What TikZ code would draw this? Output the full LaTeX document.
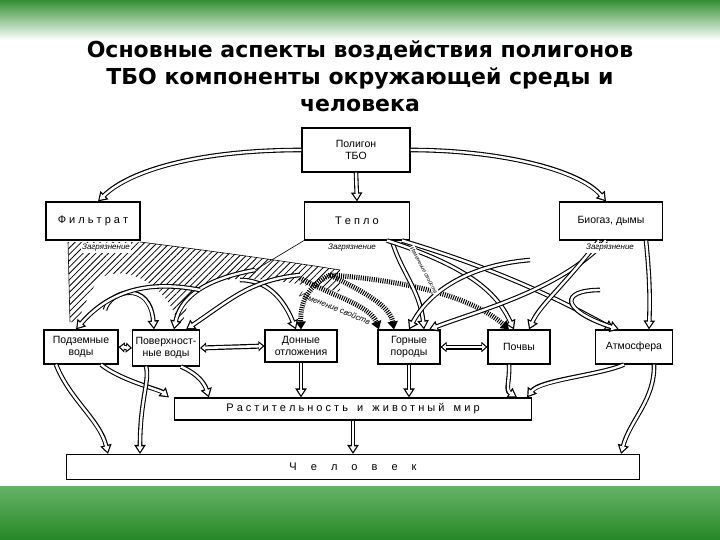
\documentclass[tikz,border=0pt]{standalone}
\usepackage{fontspec}
\setmainfont{Liberation Sans}
\newfontfamily\titlefont{DejaVu Sans}
\usetikzlibrary{arrows.meta,patterns.meta,shapes.misc}
\begin{document}
\begin{tikzpicture}[x=1pt,y=-1pt,
  box/.style={draw,line width=1.1pt,fill=white,align=center,font=\fontsize{10.5}{11.5}\selectfont,inner sep=1pt},
  hollow/.style={line width=4.6pt,-{Triangle[length=9pt,width=11pt]},
     postaction={draw=white,line width=2.4pt,shorten >=2.2pt,-{Triangle[length=5.5pt,width=6.5pt]}}},
  thin/.style={line width=0.6pt},
  dbl/.style={line width=5pt,{Triangle[length=6pt,width=10pt]}-{Triangle[length=6pt,width=10pt]},
     postaction={draw=white,line width=2.6pt,shorten >=1.8pt,shorten <=1.8pt,{Triangle[length=3.5pt,width=5.5pt]}-{Triangle[length=3.5pt,width=5.5pt]}}},
  hatch/.style={line width=5pt,dash pattern=on 1pt off 1.2pt,-{Triangle[length=8pt,width=10pt]}},
  lab/.style={font=\itshape\fontsize{8}{9}\selectfont,inner sep=1pt}]
\useasboundingbox (0,0) rectangle (720,540);
\shade[top color=green!45!black!80,bottom color=white] (0,0) rectangle (720,40);
\fill[white] (0,40) rectangle (720,488);
\shade[top color=green!50!black!60,bottom color=green!45!black!85] (0,486) rectangle (720,540);
\node[font=\titlefont\bfseries\fontsize{22}{27}\selectfont,align=center] (title) at (360,76)
  {Основные аспекты воздействия полигонов\\ТБО компоненты окружающей среды и\\человека};
\fill[white] (40,125) rectangle (680,484);
% nodes
\node[box,minimum width=108pt,minimum height=44pt] (pol) at (356,150) {Полигон\\ТБО};
\node[box,minimum width=94pt,minimum height=38pt,font=\fontsize{11}{12}\selectfont] (fil) at (93,221) {Ф и л ь т р а т};
\node[box,minimum width=105pt,minimum height=38pt,font=\fontsize{11}{12}\selectfont] (tep) at (357,221) {Т е п л о};
\node[box,minimum width=103pt,minimum height=38pt] (bio) at (611,221) {Биогаз, дымы};
\node[box,minimum width=74pt,minimum height=34pt] (pod) at (81,347) {Подземные\\воды};
\node[box,minimum width=67pt,minimum height=36pt] (pov) at (166,348) {Поверхност-\\ные воды};
\node[box,minimum width=72pt,minimum height=32pt] (don) at (301,346) {Донные\\отложения};
\node[box,minimum width=62pt,minimum height=34pt] (gor) at (409,347) {Горные\\породы};
\node[box,minimum width=62pt,minimum height=34pt] (poc) at (519,347) {Почвы};
\node[box,minimum width=77pt,minimum height=34pt] (atm) at (634,347) {Атмосфера};
\node[box,minimum width=357pt,minimum height=22pt,font=\fontsize{11}{12}\selectfont] (ras) at (353,409) {Р а с т и т е л ь н о с т ь \ \ и \ \ ж и в о т н ы й \ \ м и р};
\node[box,minimum width=573pt,minimum height=25pt,font=\fontsize{11}{12}\selectfont] (che) at (353,467) {Ч \quad е \quad л \quad о \quad в \quad е \quad к};
% hatched area
\fill[pattern={Lines[angle=45,distance=4.5pt,line width=0.8pt]}] (68,242) -- (140,242) .. controls (220,252) and (290,262) .. (340,270)
  -- (340,292) .. controls (290,282) and (240,272) .. (205,285) .. controls (190,295) and (185,310) .. (183,322)
  -- (177,322) .. controls (170,290) and (130,262) .. (100,278) .. controls (90,290) and (82,310) .. (78,322)
  -- (70,322) -- cycle;
\draw[thin] (68,242) -- (70,322);
\draw[thin] (140,242) .. controls (220,252) and (290,262) .. (340,270);
\coordinate (h1) at (330,275);
\draw[hatch] (h1) .. controls (310,285) and (300,300) .. (don.north);
\draw[hatch] (h1) .. controls (360,290) and (390,305) .. ([xshift=-15pt]gor.north);
\draw[hatch] (h1) .. controls (400,280) and (470,295) .. ([xshift=-10pt]poc.north);
\draw[hatch] (300,278) .. controls (330,295) and (370,305) .. ([xshift=-30pt]gor.north);
% from polygon
\draw[hollow] (pol.west) .. controls (200,150) and (130,170) .. ([xshift=5pt]fil.north);
\draw[hollow] (pol.south) -- (tep.north);
\draw[hollow] (pol.east) .. controls (500,150) and (580,170) .. ([xshift=-5pt]bio.north);
% from teplo
\draw[thin] (tep.south west) -- (255,270);
\draw[hollow] (255,270) .. controls (200,280) and (180,300) .. ([xshift=8pt]pov.north);
\draw[hollow] ([xshift=35pt]tep.south) .. controls (400,270) and (420,290) .. ([xshift=15pt]gor.north);
\draw[hollow] ([xshift=30pt]tep.south) .. controls (480,270) and (500,300) .. ([xshift=-5pt]poc.north);
\draw[hollow] ([xshift=45pt]tep.south) .. controls (500,270) and (560,300) .. ([xshift=-20pt]atm.north);
% from biogas
\draw[hollow] ([xshift=-5pt]bio.south) .. controls (560,290) and (480,310) .. ([xshift=20pt]gor.north);
\draw[hollow] ([xshift=-12pt]bio.south) .. controls (560,290) and (540,305) .. ([xshift=10pt]poc.north);
\draw[hollow] ([xshift=35pt]bio.south) .. controls (650,280) and (650,300) .. ([xshift=15pt]atm.north);
\draw[hollow] (600,290) .. controls (560,290) and (560,310) .. ([xshift=-15pt]atm.north);
% cross arrows between components
\draw[hollow] (105,310) .. controls (110,290) and (150,280) .. ([xshift=-12pt]pov.north);
\draw[hollow] (200,290) .. controls (150,280) and (110,290) .. ([xshift=-5pt]pod.north);
\draw[hollow] (240,280) .. controls (260,280) and (280,290) .. ([xshift=-5pt]don.north);
\draw[hollow] (530,260) .. controls (470,265) and (430,290) .. ([xshift=0pt]gor.north);
\draw[hollow] (300,275) .. controls (250,280) and (230,300) .. ([xshift=20pt]pov.north);
% labels
\node[lab,fill=white] (z1) at (106,248) {Загрязнение};
\node[lab] (z2) at (352,248) {Загрязнение};
\node[lab,fill=white] (z3) at (610,248) {Загрязнение};
\node[lab,rotate=-22] (iz) at (335,308) {Изменение свойств};
\node[lab,rotate=-62,fill=white,font=\itshape\fontsize{5.5}{6}\selectfont] (iz2) at (424,270) {Изменение свойств};
% horizontal double arrows
\draw[dbl] (pod.east) -- (pov.west);
\draw[dbl] (pov.east) -- (don.west);
\draw[dbl] (gor.east) -- (poc.west);
% lower level
\draw[hollow] (don.south) -- ([xshift=-52pt]ras.north);
\draw[hollow] (gor.south) -- ([xshift=56pt]ras.north);
\draw[hollow] ([xshift=-10pt]poc.south) .. controls (510,380) and (505,390) .. ([xshift=-15pt]ras.north east);
\draw[hollow] ([xshift=-10pt]atm.south) .. controls (600,375) and (540,380) .. ([xshift=-5pt]ras.north east);
\draw[hollow] ([xshift=20pt]pod.south) .. controls (120,380) and (160,390) .. ([xshift=-5pt]ras.north west);
\draw[hollow] ([xshift=15pt]pov.south) .. controls (200,375) and (205,385) .. ([xshift=35pt]ras.north west);
\draw[hollow] (ras.south) -- (che.north);
\draw[hollow] ([xshift=-25pt]pod.south) .. controls (70,400) and (100,420) .. ([xshift=-245pt]che.north);
\draw[hollow] ([xshift=-20pt]pov.south) .. controls (150,380) and (140,400) .. ([xshift=-213pt]che.north);
\draw[hollow] ([xshift=20pt]atm.south) .. controls (655,400) and (630,420) .. ([xshift=268pt]che.north);
\end{tikzpicture}
\end{document}
